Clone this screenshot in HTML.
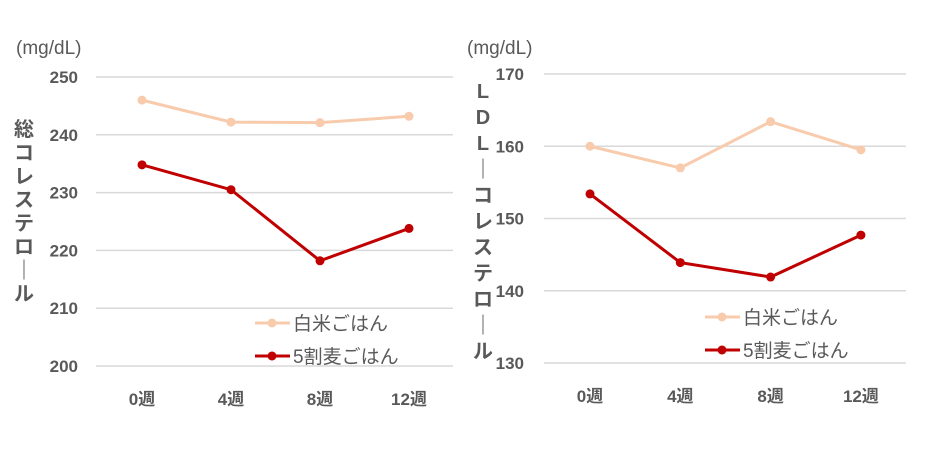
<!DOCTYPE html>
<html><head><meta charset="utf-8"><style>
body{margin:0;background:#fff;}
svg text{font-family:"Liberation Sans","Noto Sans CJK JP",sans-serif;fill:#595959;}
</style></head><body>
<svg width="940" height="452">
<g id="c1"></g>
<g id="c2"></g>
</svg>
<script>
const categories=["0週","4週","8週","12週"];
const seriesNames=["白米ごはん","5割麦ごはん"];
const totalWhite=[246,242.2,242.1,243.2];
const totalBarley=[234.8,230.5,218.2,223.8];
const totalTicks=[200,210,220,230,240,250];
const ldlWhite=[160,157,163.4,159.5];
const ldlBarley=[153.4,143.9,141.9,147.7];
const ldlTicks=[130,140,150,160,170];
const colors=["#f8cbad","#c00000"];
const NS="http://www.w3.org/2000/svg";
function mk(p,tag,a,txt){const e=document.createElementNS(NS,tag);for(const k in a)e.setAttribute(k,a[k]);if(txt!==undefined)e.textContent=txt;p.appendChild(e);return e;}
function draw(id,cfg){
 const g=document.getElementById(id);
 const ymin=cfg.ticks[0],ymax=cfg.ticks[cfg.ticks.length-1];
 const y=v=>cfg.yb+(v-ymin)/(ymax-ymin)*(cfg.yt-cfg.yb);
 const x=i=>cfg.x0+i*cfg.dx;
 cfg.ticks.forEach(t=>{
  const l=mk(g,"line",{x1:cfg.gx0,x2:cfg.gx1,y1:y(t),y2:y(t),stroke:"#d9d9d9","stroke-width":1.5});
  
  
  const tx=mk(g,"text",{x:cfg.tx,y:y(t)+6,"text-anchor":"end","font-size":17,"font-weight":"bold"},t);
  
  
 });
 categories.forEach((c,i)=>{
  const tx=mk(g,"text",{x:x(i),y:cfg.yb+39,"text-anchor":"middle","font-size":17,"font-weight":"bold"},c);
  
  
 });
 [cfg.s1,cfg.s2].forEach((s,k)=>{
  const pts=s.map((v,i)=>x(i)+","+y(v)).join(" ");
  const pl=mk(g,"polyline",{points:pts,fill:"none",stroke:colors[k],"stroke-width":3});
  
  
  s.forEach((v,i)=>{const c=mk(g,"circle",{cx:x(i),cy:y(v),r:4.5,fill:colors[k]});
   
   });
  const ly=cfg.ly+k*33;
  mk(g,"line",{x1:cfg.lx,x2:cfg.lx+35,y1:ly,y2:ly,stroke:colors[k],"stroke-width":3});
  mk(g,"circle",{cx:cfg.lx+17,cy:ly,r:4.5,fill:colors[k]});
  const lt=mk(g,"text",{x:cfg.lx+38,y:ly+7,"font-size":19},seriesNames[k]);
  
  
 });
 const u=mk(g,"text",{x:cfg.ux,y:54,"font-size":19},"(mg/dL)");
 
 
 const chars=cfg.title.split("");
 chars.forEach((ch,i)=>{
  const t=mk(g,"text",{x:cfg.tix,y:cfg.tiy+i*cfg.tis,"text-anchor":"middle","font-size":20,"font-weight":"bold"},ch);
  
  
 });
}
draw("c1",{ticks:totalTicks,s1:totalWhite,s2:totalBarley,yb:366,yt:77,x0:142,dx:89,gx0:96,gx1:453,tx:78,lx:255,ly:323,ux:16,title:"総コレステロ｜ル",tix:24,tiy:136,tis:23.5});
draw("c2",{ticks:ldlTicks,s1:ldlWhite,s2:ldlBarley,yb:363,yt:74,x0:590,dx:90.3,gx0:544,gx1:906,tx:524,lx:705,ly:317,ux:467,title:"LDL｜コレステロ｜ル",tix:483,tiy:98,tis:26});
</script>
</body></html>
